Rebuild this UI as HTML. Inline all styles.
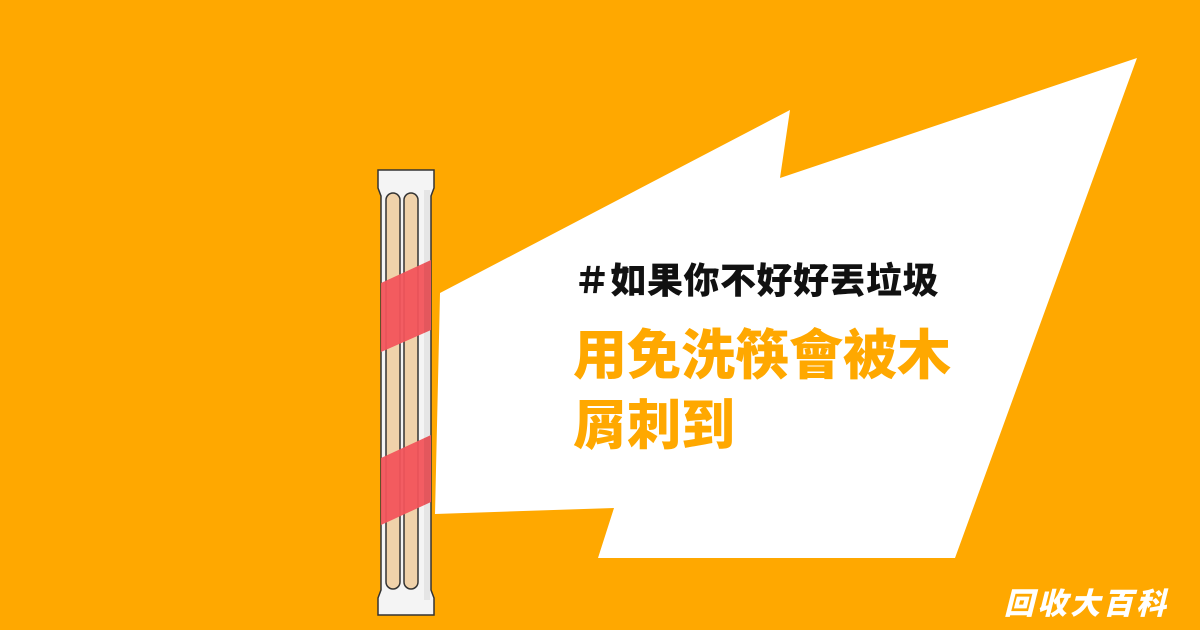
<!DOCTYPE html>
<html><head><meta charset="utf-8"><style>
html,body{margin:0;padding:0}
body{width:1200px;height:630px;background:#FFA800;position:relative;overflow:hidden;font-family:"Liberation Sans","Noto Sans CJK TC",sans-serif}
svg{position:absolute;left:0;top:0}
.t{position:absolute;font-weight:900;white-space:nowrap}
</style></head><body>
<svg width="1200" height="630">
  <polygon points="440,293 790,110 780,178 1137,58 955,558 598,558 614,508 435,514" fill="#fff"/>
  <g>
    <path d="M378,170 L434,170 L434,188 L431,196 L431,590 L434,598 L434,615 L378,615 L378,598 L381,590 L381,196 L378,188 Z" fill="#f4f4f4" stroke="#333" stroke-width="1.5"/>
    <rect x="386" y="193" width="14" height="396" rx="7" fill="#F0D2AA" stroke="#333" stroke-width="1.5"/>
    <rect x="404" y="193" width="14" height="396" rx="7" fill="#F0D2AA" stroke="#333" stroke-width="1.5"/>
    <polygon points="381,283 431,260 431,330 381,352" fill="#F2545B" opacity="0.95"/>
    <polygon points="381,458 431,435 431,502 381,525" fill="#F2545B" opacity="0.95"/>
    <rect x="424" y="190" width="6" height="410" fill="#000" opacity="0.06"/>
  </g>
</svg>
<div class="t" style="left:574px;top:252px;font-size:36px;letter-spacing:0.5px;color:#111">＃如果你不好好丟垃圾</div>
<div class="t" style="left:573px;top:321px;font-size:54px;line-height:70px;color:#FFA800">用免洗筷會被木<br>屑刺到</div>
<div class="t" style="left:1004px;top:579px;font-size:30px;color:#fff;font-style:italic;letter-spacing:3px">回收大百科</div>
</body></html>
